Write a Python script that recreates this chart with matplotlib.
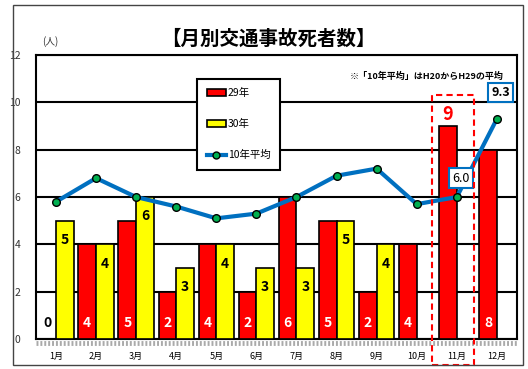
import numpy as np
import matplotlib.pyplot as plt
from matplotlib.patches import Rectangle
from matplotlib.lines import Line2D
from matplotlib.patches import Patch

plt.rcParams['font.family'] = ['Noto Sans CJK JP', 'DejaVu Sans']

months = ['1月', '2月', '3月', '4月', '5月', '6月', '7月', '8月', '9月', '10月', '11月', '12月']
h29 = [0, 4, 5, 2, 4, 2, 6, 5, 2, 4, 9, 8]
h30 = [5, 4, 6, 3, 4, 3, 3, 5, 4]
avg10 = [5.8, 6.8, 6.0, 5.6, 5.1, 5.3, 6.0, 6.9, 7.2, 5.7, 6.0, 9.3]

fig = plt.figure(figsize=(5.28, 3.69), dpi=100)
ax = fig.add_axes([0.068, 0.081, 0.911, 0.770])

x = np.arange(len(months))
w = 0.44
ax.bar(x - w / 2, h29, w, color='#ff0000', edgecolor='black', linewidth=1.2, zorder=3)
x30 = np.arange(len(h30))
ax.bar(x30 + w / 2, h30, w, color='#ffff00', edgecolor='black', linewidth=1.2, zorder=3)
ax.plot(x, avg10, color='#0070c0', lw=3, marker='o', ms=5.5,
        mfc='#00b050', mec='black', mew=1, zorder=4)

# bar labels
for i, v in enumerate(h29):
    if i == 10:
        ax.text(i - w / 2, v + 0.5, str(v), color='red', ha='center', va='center',
                fontsize=13, fontweight='bold', zorder=5)
    elif v == 0:
        ax.text(i - w / 2, 0.7, '0', color='black', ha='center', va='center',
                fontsize=10, fontweight='bold', zorder=5)
    else:
        ax.text(i - w / 2, 0.7, str(v), color='white', ha='center', va='center',
                fontsize=10, fontweight='bold', zorder=5)
for i, v in enumerate(h30):
    ax.text(i + w / 2, v - 0.82, str(v), color='black', ha='center', va='center',
            fontsize=10, fontweight='bold', zorder=5)

# boxed average labels
ax.text(10.1, 6.8, f'{avg10[10]:.1f}', ha='center', va='center', fontsize=9,
        bbox=dict(boxstyle='square,pad=0.25', fc='white', ec='#0070c0', lw=1.5), zorder=6)
ax.text(11.1, 10.4, f'{avg10[11]:.1f}', ha='center', va='center', fontsize=9, fontweight='bold',
        bbox=dict(boxstyle='square,pad=0.25', fc='white', ec='#0070c0', lw=1.5), zorder=6)

ax.text(9.25, 11.1, '※「10年平均」はH20からH29の平均', ha='center', va='center',
        fontsize=6.5, fontweight='bold')

# dashed highlight for 11月
ax.add_patch(Rectangle((9.38, -1.1), 1.04, 11.4, fill=False, ec='red', lw=1.5,
                       ls=(0, (3, 2)), clip_on=False, zorder=7))

ax.set_xlim(-0.5, 11.5)
ax.set_ylim(0, 12)
ax.set_yticks(range(0, 13, 2))
ax.set_xticks(x)
ax.set_xticklabels(months, fontsize=6.5)
ax.tick_params(axis='y', length=0, pad=11, labelsize=7.5, labelcolor='#333333')
ax.tick_params(axis='x', length=0, pad=9)
ax.grid(axis='y', color='black', lw=1.5, zorder=1)
for s in ax.spines.values():
    s.set_linewidth(1.5)
ax.plot([-0.5, 11.5], [-0.17, -0.17], color='#aaaaaa', lw=3.5, ls=(0, (0.4, 0.4)),
        clip_on=False)

ax.text(-0.35, 12.35, '(人)', fontsize=7, ha='left', va='bottom', color='#333333')
fig.text(0.508, 0.893, '【月別交通事故死者数】', ha='center', va='center',
         fontsize=14, fontweight='bold')

handles = [Patch(fc='#ff0000', ec='black', lw=1.2),
           Patch(fc='#ffff00', ec='black', lw=1.2),
           Line2D([], [], color='#0070c0', lw=3, marker='o', ms=5, mfc='#00b050', mec='black')]
leg = fig.legend(handles, ['29年', '30年', '10年平均'], loc='upper left',
                 bbox_to_anchor=(0.364, 0.80), fontsize=7.5, labelspacing=2.0,
                 handlelength=1.8, handleheight=0.6, handletextpad=0.2,
                 borderpad=0.9, fancybox=False, framealpha=1, edgecolor='black')
leg.get_frame().set_linewidth(1.5)

fig.patches.append(Rectangle((13 / 528, 4 / 369), 510 / 528, 360 / 369, fill=False,
                             ec='#444444', lw=1, transform=fig.transFigure))

fig.savefig('out.png', dpi=100)
